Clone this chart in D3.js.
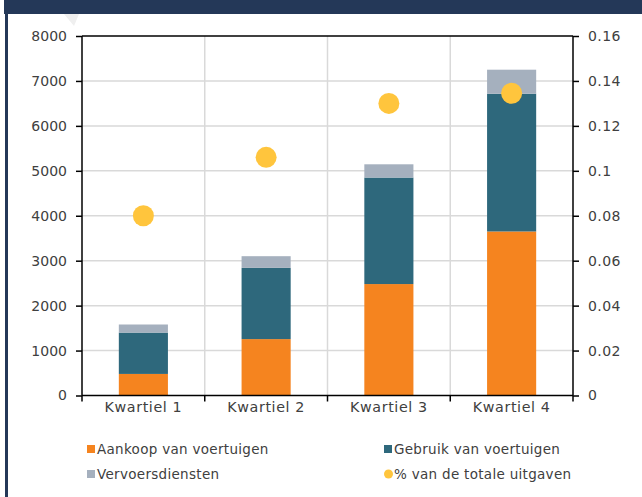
<!DOCTYPE html>
<html><head><meta charset="utf-8">
<script src="https://cdn.jsdelivr.net/npm/d3@7"></script>
<style>body{margin:0;background:#fff}svg{display:block}</style>
</head><body>
<svg id="c" width="642" height="497"></svg>
<script>
const categories = ["Kwartiel 1","Kwartiel 2","Kwartiel 3","Kwartiel 4"];
const aankoop = [480, 1255, 2480, 3650];
const gebruik = [920, 1585, 2370, 3065];
const vervoer = [180, 260, 295, 535];
const pctTotaal = [0.080, 0.106, 0.130, 0.1345];
const leftTicks = [0,1000,2000,3000,4000,5000,6000,7000,8000];
const rightTicks = [0,0.02,0.04,0.06,0.08,0.1,0.12,0.14,0.16];
const seriesNames = ["Aankoop van voertuigen","Gebruik van voertuigen","Vervoersdiensten","% van de totale uitgaven"];
const colors = ["#F5841F","#2E687C","#A5B0BE","#FFC53D"];

const svg = d3.select("#c");
const font = "'DejaVu Sans', sans-serif";
const L = 82, R = 573, T = 36, B = 395.5;

// frame
svg.append("rect").attr("x",4).attr("y",0).attr("width",638).attr("height",14).attr("fill","#243858");
svg.append("rect").attr("x",5).attr("y",14).attr("width",3).attr("height",483).attr("fill","#243858");
svg.append("polygon").attr("points","64,14 79,14 74,26").attr("fill","#efefef");

const x = d3.scaleBand().domain(categories).range([L,R]).padding(0);
const y = d3.scaleLinear().domain([0,8000]).range([B,T]);
const y2 = d3.scaleLinear().domain([0,0.16]).range([B,T]);

// gridlines
const g = svg.append("g");
g.selectAll(".hg").data(leftTicks.slice(1,-1)).join("line")
  .attr("x1",L).attr("x2",R).attr("y1",d=>y(d)).attr("y2",d=>y(d))
  .attr("stroke","#d9d9d9").attr("stroke-width",1.5);
g.selectAll(".vg").data(categories.slice(1)).join("line")
  .attr("x1",d=>x(d)).attr("x2",d=>x(d)).attr("y1",T).attr("y2",B)
  .attr("stroke","#d9d9d9").attr("stroke-width",1.5);

// stacked bars
const rows = categories.map((c,i)=>({cat:c,a:aankoop[i],g:gebruik[i],v:vervoer[i]}));
const stack = d3.stack().keys(["a","g","v"])(rows);
const bw = x.bandwidth()*0.4;
svg.append("g").selectAll("g").data(stack).join("g").attr("fill",(d,i)=>colors[i])
  .selectAll("rect").data(d=>d).join("rect")
  .attr("x",d=>x(d.data.cat)+x.bandwidth()/2-bw/2).attr("width",bw)
  .attr("y",d=>y(d[1])).attr("height",d=>y(d[0])-y(d[1]));

// dots
svg.append("g").selectAll("circle").data(pctTotaal).join("circle")
  .attr("cx",(d,i)=>x(categories[i])+x.bandwidth()/2).attr("cy",d=>y2(d)).attr("r",10.5)
  .attr("fill",colors[3]);

// axes
const left = svg.append("g").attr("transform",`translate(${L},0)`)
  .call(d3.axisLeft(y).tickValues(leftTicks).tickSize(6).tickPadding(9).tickFormat(d3.format("d")));
const right = svg.append("g").attr("transform",`translate(${R},0)`)
  .call(d3.axisRight(y2).tickValues(rightTicks).tickSize(6).tickPadding(9).tickFormat(d=>d===0?"0":String(+d.toFixed(2))));
const bottom = svg.append("g").attr("transform",`translate(0,${B})`)
  .call(d3.axisBottom(x).tickSize(0).tickPadding(6));
[left,right,bottom].forEach(a=>{
  a.selectAll("path.domain").attr("stroke","#000").attr("stroke-width",1.5);
  a.selectAll("line").attr("stroke","#000").attr("stroke-width",1.5);
  a.selectAll("text").attr("font-family",font).attr("font-size",14).attr("fill","#404040");
});
left.select("path.domain").attr("d",`M0,${T}V${B}`);
right.select("path.domain").attr("d",`M0,${T}V${B}`);
bottom.select("path.domain").attr("d",`M${L},0H${R}`);
right.selectAll("text").attr("letter-spacing","0.4px");
bottom.selectAll("text").attr("letter-spacing","0.6px").attr("font-size",14.3);
// category boundary ticks
svg.append("g").selectAll("line").data([...categories.map(c=>x(c)),R]).join("line")
  .attr("x1",d=>d).attr("x2",d=>d).attr("y1",B).attr("y2",B+6)
  .attr("stroke","#000").attr("stroke-width",1.5);
// top border line
svg.append("line").attr("x1",L).attr("x2",R).attr("y1",T).attr("y2",T).attr("stroke","#000").attr("stroke-width",1.5);

// legend
const legPos = [[87,449],[384,449],[87,474],[384,474]];
const lg = svg.append("g").selectAll("g").data(seriesNames).join("g")
  .attr("transform",(d,i)=>`translate(${legPos[i][0]},${legPos[i][1]})`);
lg.each(function(d,i){
  const s = d3.select(this);
  if(i===3) s.append("circle").attr("cx",4.5).attr("cy",0).attr("r",4.5).attr("fill",colors[i]);
  else s.append("rect").attr("x",0).attr("y",-4).attr("width",8).attr("height",8).attr("fill",colors[i]);
  s.append("text").attr("x",10).attr("y",0).attr("dy","0.35em").text(d)
   .attr("font-family",font).attr("font-size",13.5).attr("letter-spacing","0.3px").attr("fill","#404040");
});
</script>
</body></html>
